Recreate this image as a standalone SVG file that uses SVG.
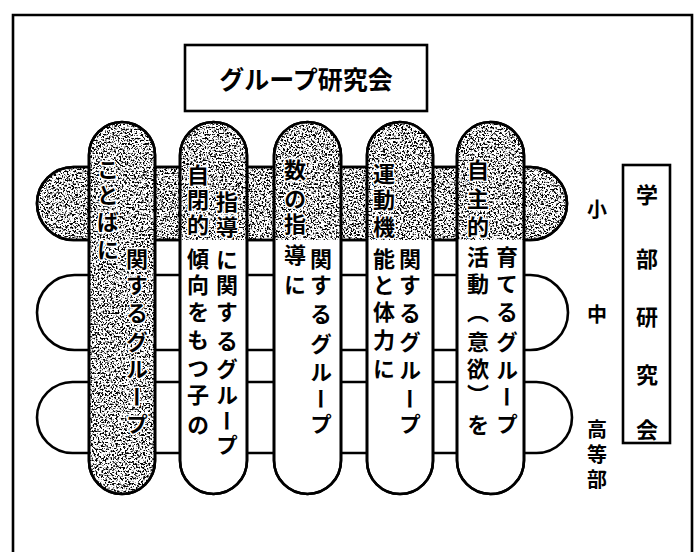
<svg xmlns="http://www.w3.org/2000/svg" width="696" height="552" viewBox="0 0 696 552">
<style>
.ln{fill:none;stroke:#000;stroke-width:2.6}
.wf{fill:#fff;stroke:#000;stroke-width:2.6}
.t{font-family:"Noto Sans CJK JP","Noto Sans CJK SC",sans-serif;font-weight:700;fill:#000}
.v{font-size:22px;writing-mode:tb;text-anchor:middle;stroke:#fff;stroke-width:3px;stroke-linejoin:round;paint-order:stroke}
.lv{font-size:20px;writing-mode:tb;text-anchor:middle}
.s{font-size:22px;text-anchor:middle;dominant-baseline:central}
.sp{fill:#000;filter:url(#speckle)}
</style>
<defs>
<filter id="speckle" x="0" y="0" width="1" height="1" color-interpolation-filters="sRGB">
<feTurbulence type="fractalNoise" baseFrequency="0.55" numOctaves="3" seed="7" result="n"/>
<feColorMatrix in="n" type="matrix" values="0 0 0 0 0  0 0 0 0 0  0 0 0 0 0  -7 0 0 0 3.6"/>
</filter>
<clipPath id="cp1"><rect x="89" y="122" width="66" height="372" rx="33"/></clipPath>
<clipPath id="cp2"><rect x="180" y="122" width="67" height="372" rx="33.5"/></clipPath>
<clipPath id="cp3"><rect x="274" y="122" width="67" height="372" rx="33.5"/></clipPath>
<clipPath id="cp4"><rect x="367" y="122" width="66" height="372" rx="33"/></clipPath>
<clipPath id="cp5"><rect x="457" y="122" width="67" height="372" rx="33.5"/></clipPath>
<clipPath id="cpb1"><rect x="37" y="167" width="530" height="73" rx="36.5"/></clipPath>
</defs>
<rect width="696" height="552" fill="#fff"/>
<path id="frame" class="ln" d="M13,552 L13,15 L692,15 L692,552"/>

<g id="title">
<rect class="wf" x="185" y="45" width="242" height="66"/>
<text class="t" x="306" y="78" font-size="25" text-anchor="middle" dominant-baseline="central">グループ研究会</text>
</g>

<g id="bands">
<g id="band-chu"><rect class="wf" x="37" y="275" width="531" height="75" rx="37.5"/></g>
<g id="band-ko"><rect class="wf" x="37" y="382" width="535" height="71" rx="35.5"/></g>
<g id="band-sho">
<rect class="wf" x="37" y="167" width="530" height="73" rx="36.5"/>
<rect class="sp" x="37" y="167" width="530" height="73" clip-path="url(#cpb1)"/>
<rect class="ln" x="37" y="167" width="530" height="73" rx="36.5"/>
</g>
</g>

<g id="connectors"></g>

<g id="pill1">
<rect class="wf" x="89" y="122" width="66" height="372" rx="33"/>
<rect class="sp" x="89" y="122" width="66" height="372" clip-path="url(#cp1)"/>
<rect class="ln" x="89" y="122" width="66" height="372" rx="33"/>
<text class="t v" x="108" y="170 195 222 250">ことばに</text>
<text class="t v" x="137" y="259 285 313 342 369 397 424">関するグループ</text>
</g>

<g id="pill2">
<rect class="wf" x="180" y="122" width="67" height="372" rx="33.5"/>
<rect class="sp" x="180" y="122" width="67" height="118" clip-path="url(#cp2)"/>
<rect class="ln" x="180" y="122" width="67" height="372" rx="33.5"/>
<text class="t v" x="198" y="175 200 225 259 285 312 340 368 395 425">自閉的傾向をもつ子の</text>
<text class="t v" x="227" y="202 227 260 285 312 341 369 395 421 445">指導に関するグループ</text>
</g>

<g id="pill3">
<rect class="wf" x="274" y="122" width="67" height="372" rx="33.5"/>
<rect class="sp" x="274" y="122" width="67" height="118" clip-path="url(#cp3)"/>
<rect class="ln" x="274" y="122" width="67" height="372" rx="33.5"/>
<text class="t v" x="295" y="170 199 224 255 285">数の指導に</text>
<text class="t v" x="321" y="259 285 314 344 372 399 424">関するグループ</text>
</g>

<g id="pill4">
<rect class="wf" x="367" y="122" width="66" height="372" rx="33"/>
<rect class="sp" x="367" y="122" width="66" height="118" clip-path="url(#cp4)"/>
<rect class="ln" x="367" y="122" width="66" height="372" rx="33"/>
<text class="t v" x="384" y="174 200 227 259 285 312 340 369">運動機能と体力に</text>
<text class="t v" x="410" y="259 285 313 342 370 399 424">関するグループ</text>
</g>

<g id="pill5">
<rect class="wf" x="457" y="122" width="67" height="372" rx="33.5"/>
<rect class="sp" x="457" y="122" width="67" height="118" clip-path="url(#cp5)"/>
<rect class="ln" x="457" y="122" width="67" height="372" rx="33.5"/>
<text class="t v" x="478" y="170 199 227 257 284 312 342 369 395 425">自主的活動（意欲）を</text>
<text class="t v" x="507" y="257 284 312 342 370 397 424">育てるグループ</text>
</g>

<g id="levels">
<text class="t lv" x="597" y="209">小</text>
<text class="t lv" x="597" y="314">中</text>
<text class="t lv" x="597" y="429 454 479">高等部</text>
</g>

<g id="gakubu">
<rect class="wf" x="623" y="165" width="47" height="278"/>
<text class="t s" x="647" y="193">学</text>
<text class="t s" x="647" y="257">部</text>
<text class="t s" x="647" y="315">研</text>
<text class="t s" x="647" y="373">究</text>
<text class="t s" x="647" y="428">会</text>
</g>
</svg>
